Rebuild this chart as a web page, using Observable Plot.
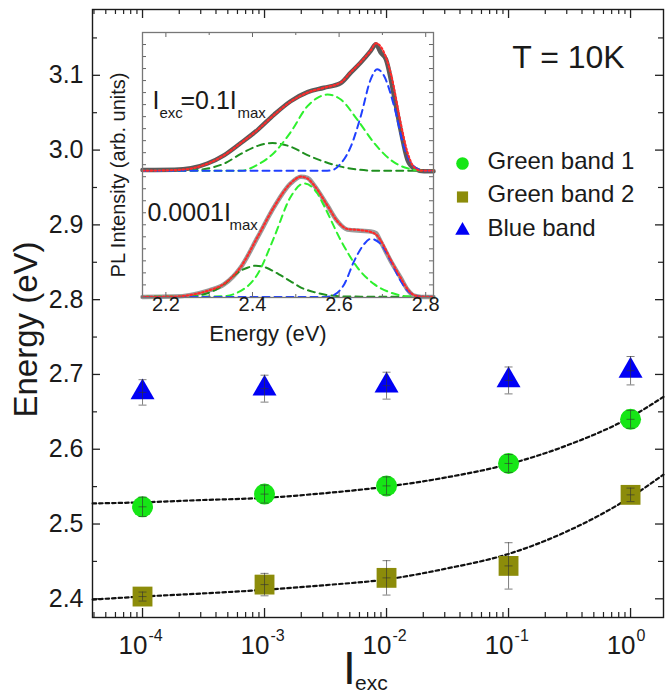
<!DOCTYPE html>
<html><head><meta charset="utf-8">
<script src="https://cdn.jsdelivr.net/npm/d3@7"></script>
<script src="https://cdn.jsdelivr.net/npm/@observablehq/plot@0.6"></script>
<style>
body{margin:0;background:#fff;}
#wrap{position:relative;width:666px;height:693px;}
#wrap svg{position:absolute;left:0;top:0;}
</style></head><body><div id="wrap"></div>
<script>
// ---------- main chart data ----------
const intensity = [1e-4, 1e-3, 1e-2, 1e-1, 1];
const greenBand1 = [2.523, 2.540, 2.551, 2.581, 2.640];
const greenBand1Err = [0.013, 0.012, 0.012, 0.012, 0.012];
const greenBand2 = [2.403, 2.419, 2.428, 2.444, 2.539];
const greenBand2Err = [0.006, 0.015, 0.023, 0.031, 0.009];
const blueBand = [2.676, 2.681, 2.685, 2.692, 2.705];
const blueBandErr = [0.017, 0.018, 0.018, 0.018, 0.019];
// dotted fit curves
const fitX = [3.9e-5, 1e-4, 3e-4, 1e-3, 3e-3, 1e-2, 3e-2, 0.1, 0.3, 1, 1.86];
const fit1Y = [2.5275, 2.529, 2.532, 2.535, 2.541, 2.550, 2.562, 2.580, 2.605, 2.643, 2.670];
const fit2Y = [2.399, 2.403, 2.407, 2.412, 2.418, 2.426, 2.440, 2.460, 2.490, 2.536, 2.566];
const yTickValues = [2.4, 2.5, 2.6, 2.7, 2.8, 2.9, 3.0, 3.1];
const xTickValues = [1e-4, 1e-3, 1e-2, 1e-1, 1];
const xTickExponents = ["-4", "-3", "-2", "-1", "0"];
const legendLabels = ["Green band 1", "Green band 2", "Blue band"];
const tempLabel = "T = 10K";

// ---------- inset data (energy eV, intensity arb. units) ----------
const lowData = [[2.146,0],[2.22,0.003],[2.258,0.017],[2.296,0.05],[2.335,0.106],[2.373,0.246],[2.412,0.497],[2.45,0.749],[2.488,0.944],[2.512,1.0],[2.527,0.99],[2.542,0.93],[2.573,0.76],[2.596,0.63],[2.619,0.56],[2.65,0.55],[2.673,0.545],[2.685,0.53],[2.696,0.46],[2.719,0.30],[2.742,0.16],[2.758,0.06],[2.773,0.01],[2.79,0],[2.818,0]];
const lowFit = [[2.146,0],[2.22,0.003],[2.258,0.017],[2.296,0.05],[2.335,0.11],[2.373,0.25],[2.412,0.50],[2.45,0.75],[2.488,0.945],[2.512,1.0],[2.527,0.985],[2.542,0.93],[2.573,0.76],[2.596,0.63],[2.619,0.565],[2.65,0.555],[2.673,0.54],[2.685,0.52],[2.696,0.47],[2.719,0.31],[2.742,0.16],[2.758,0.065],[2.773,0.015],[2.79,0.002],[2.818,0]];
const lowBand2 = [[2.146,0],[2.25,0.003],[2.296,0.03],[2.335,0.106],[2.365,0.2],[2.39,0.245],[2.408,0.26],[2.43,0.245],[2.46,0.19],[2.488,0.13],[2.512,0.078],[2.542,0.04],[2.573,0.015],[2.62,0.003],[2.818,0]];
const lowBand1 = [[2.146,0],[2.33,0.005],[2.373,0.05],[2.412,0.19],[2.45,0.497],[2.488,0.832],[2.519,0.944],[2.55,0.86],[2.565,0.76],[2.604,0.47],[2.642,0.246],[2.681,0.106],[2.719,0.036],[2.758,0.005],[2.818,0]];
const lowBlue = [[2.146,0],[2.57,0],[2.588,0.015],[2.612,0.106],[2.635,0.30],[2.658,0.44],[2.673,0.483],[2.696,0.44],[2.719,0.30],[2.742,0.134],[2.765,0.03],[2.788,0.002],[2.818,0]];
const highData = [[2.146,1.056],[2.22,1.058],[2.258,1.07],[2.296,1.11],[2.335,1.18],[2.373,1.28],[2.412,1.39],[2.45,1.517],[2.488,1.628],[2.527,1.704],[2.565,1.74],[2.604,1.78],[2.627,1.866],[2.65,1.95],[2.673,2.047],[2.685,2.103],[2.696,2.033],[2.708,1.978],[2.727,1.67],[2.742,1.39],[2.758,1.14],[2.773,1.07],[2.796,1.045],[2.818,1.045]];
const highFit = [[2.146,1.05],[2.22,1.055],[2.258,1.068],[2.296,1.108],[2.335,1.18],[2.373,1.28],[2.412,1.39],[2.45,1.515],[2.488,1.625],[2.527,1.70],[2.565,1.74],[2.604,1.785],[2.627,1.87],[2.65,1.955],[2.673,2.05],[2.685,2.11],[2.70,2.06],[2.72,1.85],[2.742,1.45],[2.758,1.2],[2.773,1.08],[2.79,1.05],[2.818,1.05]];
const highBand2 = [[2.146,1.05],[2.25,1.052],[2.296,1.068],[2.335,1.11],[2.373,1.19],[2.412,1.257],[2.446,1.28],[2.488,1.25],[2.527,1.18],[2.565,1.126],[2.604,1.084],[2.642,1.06],[2.681,1.05],[2.818,1.05]];
const highBand1 = [[2.146,1.05],[2.373,1.05],[2.412,1.1],[2.45,1.2],[2.488,1.37],[2.527,1.587],[2.55,1.656],[2.573,1.684],[2.604,1.642],[2.642,1.475],[2.681,1.28],[2.719,1.14],[2.758,1.07],[2.796,1.05],[2.818,1.05]];
const highBlue = [[2.146,1.05],[2.573,1.05],[2.588,1.06],[2.604,1.11],[2.627,1.25],[2.65,1.503],[2.673,1.81],[2.688,1.894],[2.704,1.838],[2.727,1.587],[2.75,1.25],[2.773,1.084],[2.796,1.05],[2.818,1.05]];
const insetXTicks = [2.2, 2.4, 2.6, 2.8];

// ---------- styles ----------
const FONT = '"Liberation Sans", Arial, Helvetica, sans-serif';
const GREEN = "#16e616", OLIVE = "#8c8c0a", BLUE = "#0000f5";
const INK = "#1a1a1a";
const W = 666, H = 693;
const M = {left: 92, right: 3, top: 9, bottom: 76};
const PW = W - M.left - M.right, PH = H - M.top - M.bottom;

const series = [
  {name: legendLabels[0], values: greenBand1, errs: greenBand1Err, symbol: "circle", fill: GREEN, r: 10.5, lr: 6.3},
  {name: legendLabels[1], values: greenBand2, errs: greenBand2Err, symbol: "square", fill: OLIVE, r: 11.2, lr: 6.3},
  {name: legendLabels[2], values: blueBand, errs: blueBandErr, symbol: "triangle", fill: BLUE, r: 8.9, lr: 5.4}
];
const pointsOf = s => intensity.map((x, i) => ({x, y: s.values[i], e: s.errs[i]}));
const allPoints = series.flatMap(pointsOf);
const fit1 = fitX.map((x, i) => ({x, y: fit1Y[i]}));
const fit2 = fitX.map((x, i) => ({x, y: fit2Y[i]}));

const capSymbol = {draw(ctx, size) { const w = Math.sqrt(size / Math.PI); ctx.moveTo(-w, 0); ctx.lineTo(w, 0); }};

const xDomain = [Math.pow(10, -4.41), Math.pow(10, 0.27)];
const xMinor = [];
for (let d = -5; d <= 0; d++) for (let k = 2; k <= 9; k++) {
  const v = k * Math.pow(10, d);
  if (v > xDomain[0] && v < xDomain[1]) xMinor.push(v);
}
const yMinor = d3.range(2.45, 3.16, 0.1);

const tickStroke = "#222";
const errStyle = {stroke: "#333", strokeWidth: 0.9, strokeOpacity: 0.7};
const mainPlot = Plot.plot({
  width: W, height: H,
  marginLeft: M.left, marginRight: M.right, marginTop: M.top, marginBottom: M.bottom,
  style: {fontFamily: FONT, background: "white", color: INK},
  x: {type: "log", domain: xDomain, axis: null},
  y: {domain: [2.375, 3.188], axis: null},
  marks: [
    // inward ticks on all four sides
    Plot.tickY(yTickValues, {y: d => d, insetRight: PW - 8, stroke: tickStroke, strokeWidth: 1.3}),
    Plot.tickY(yTickValues, {y: d => d, insetLeft: PW - 8, stroke: tickStroke, strokeWidth: 1.3}),
    Plot.tickY(yMinor, {y: d => d, insetRight: PW - 5, stroke: tickStroke, strokeWidth: 1.2}),
    Plot.tickY(yMinor, {y: d => d, insetLeft: PW - 5, stroke: tickStroke, strokeWidth: 1.2}),
    Plot.tickX(xTickValues, {x: d => d, insetTop: PH - 9, stroke: tickStroke, strokeWidth: 1.3}),
    Plot.tickX(xTickValues, {x: d => d, insetBottom: PH - 9, stroke: tickStroke, strokeWidth: 1.3}),
    Plot.tickX(xMinor, {x: d => d, insetTop: PH - 5, stroke: tickStroke, strokeWidth: 1.2}),
    Plot.tickX(xMinor, {x: d => d, insetBottom: PH - 5, stroke: tickStroke, strokeWidth: 1.2}),
    Plot.frame({stroke: INK, strokeWidth: 1.4}),
    // fits
    Plot.line(fit1, {x: "x", y: "y", curve: "monotone-x", stroke: "#111", strokeWidth: 2.2, strokeDasharray: "3.5,3"}),
    Plot.line(fit2, {x: "x", y: "y", curve: "monotone-x", stroke: "#111", strokeWidth: 2.2, strokeDasharray: "3.5,3"}),
    // markers
    ...series.map(s => Plot.dot(pointsOf(s), {x: "x", y: "y", r: s.r, symbol: s.symbol, fill: s.fill, stroke: "none"})),
    // error bars
    Plot.ruleX(allPoints, {x: "x", y1: d => d.y - d.e, y2: d => d.y + d.e, ...errStyle}),
    Plot.dot(allPoints, {x: "x", y: d => d.y + d.e, symbol: capSymbol, r: 4, fill: "none", ...errStyle}),
    Plot.dot(allPoints, {x: "x", y: d => d.y - d.e, symbol: capSymbol, r: 4, fill: "none", ...errStyle}),
    Plot.dot(allPoints, {x: "x", y: "y", symbol: capSymbol, r: 4, fill: "none", ...errStyle}),
    // tick labels
    Plot.text(yTickValues, {y: d => d, frameAnchor: "left", dx: -9, textAnchor: "end", text: d => d.toFixed(1), fontSize: 25, fill: INK}),
    Plot.text(xTickValues, {x: d => d, frameAnchor: "bottom", dy: 36, textAnchor: "end", lineAnchor: "bottom", dx: 5, text: () => "10", fontSize: 26, fill: INK}),
    Plot.text(xTickValues, {x: d => d, frameAnchor: "bottom", dy: 23, textAnchor: "start", lineAnchor: "bottom", dx: 6, text: (d, i) => xTickExponents[i], fontSize: 16, fill: INK}),
    // axis titles
    Plot.text(["Energy (eV)"], {frameAnchor: "left", dx: -66, dy: 16, rotate: -90, textAnchor: "middle", text: d => d, fontSize: 33, fill: INK}),
    Plot.text(["I"], {frameAnchor: "bottom", dx: -35, dy: 66, textAnchor: "start", lineAnchor: "bottom", text: d => d, fontSize: 46, fill: INK}),
    Plot.text(["exc"], {frameAnchor: "bottom", dx: -23, dy: 72, textAnchor: "start", lineAnchor: "bottom", text: d => d, fontSize: 21, fill: INK}),
    // temperature annotation
    Plot.text([tempLabel], {frameAnchor: "top-right", dx: -95, dy: 58, textAnchor: "middle", lineAnchor: "bottom", text: d => d, fontSize: 32, fill: INK}),
    // legend
    ...series.flatMap((s, i) => [
      Plot.dot([s.name], {frameAnchor: "top-left", dx: 370, dy: 154 + i * 33.5, r: s.lr, symbol: s.symbol, fill: s.fill, stroke: "none"}),
      Plot.text([s.name], {frameAnchor: "top-left", dx: 395, dy: 159 + i * 33.5, textAnchor: "start", lineAnchor: "bottom", text: d => d, fontSize: 24, fill: INK})
    ])
  ]
});

// ---------- inset ----------
const IL = 142, IR = 433, IT = 32, IB = 297;
const IPW = IR - IL, IPH = IB - IT;
const pairs = arr => arr.map(([e, v]) => ({e, v}));
const inXMinor = [2.3, 2.5, 2.7];
const inYMinor = d3.range(0.1, 2.15, 0.1);
const compStyle = {strokeWidth: 2, strokeDasharray: "7,5", curve: "monotone-x"};
const fitStyle = {curve: "monotone-x", stroke: "#ff2a2a", strokeWidth: 2.2, strokeDasharray: "1.6,2.4"};
const insetPlot = Plot.plot({
  width: W, height: H,
  marginLeft: IL, marginRight: W - IR, marginTop: IT, marginBottom: H - IB,
  style: {fontFamily: FONT, background: "transparent", color: INK},
  x: {domain: [2.146, 2.818], axis: null},
  y: {domain: [-0.005, 2.2], axis: null},
  marks: [
    Plot.frame({fill: "white", stroke: "none"}),
    // measured spectra
    Plot.line(pairs(lowData), {x: "e", y: "v", curve: "monotone-x", stroke: "#9a9a9a", strokeWidth: 4.5}),
    Plot.line(pairs(highData), {x: "e", y: "v", curve: "monotone-x", stroke: "#5a5a5a", strokeWidth: 4.5}),
    // components
    Plot.line(pairs(lowBand2), {x: "e", y: "v", stroke: "#1f8f1f", ...compStyle}),
    Plot.line(pairs(lowBand1), {x: "e", y: "v", stroke: "#2ef02e", ...compStyle}),
    Plot.line(pairs(lowBlue), {x: "e", y: "v", stroke: "#2040ff", ...compStyle}),
    Plot.line(pairs(highBand2), {x: "e", y: "v", stroke: "#1f8f1f", ...compStyle}),
    Plot.line(pairs(highBand1), {x: "e", y: "v", stroke: "#2ef02e", ...compStyle}),
    Plot.line(pairs(highBlue), {x: "e", y: "v", stroke: "#2040ff", ...compStyle}),
    // fits
    Plot.line(pairs(lowFit), {x: "e", y: "v", ...fitStyle}),
    Plot.line(pairs(highFit), {x: "e", y: "v", ...fitStyle}),
    // ticks
    Plot.tickX(insetXTicks, {x: d => d, insetTop: IPH - 5, stroke: "#666"}),
    Plot.tickX(insetXTicks, {x: d => d, insetBottom: IPH - 5, stroke: "#666"}),
    Plot.tickX(inXMinor, {x: d => d, insetTop: IPH - 3, stroke: "#666"}),
    Plot.tickX(inXMinor, {x: d => d, insetBottom: IPH - 3, stroke: "#666"}),
    Plot.tickY(inYMinor, {y: d => d, insetRight: IPW - 4, stroke: "#666"}),
    Plot.tickY(inYMinor, {y: d => d, insetLeft: IPW - 4, stroke: "#666"}),
    Plot.frame({stroke: "#777", strokeWidth: 1.3}),
    // labels
    Plot.text(insetXTicks, {x: d => d, frameAnchor: "bottom", dy: 13, text: d => d.toFixed(1), fontSize: 20, fill: INK}),
    Plot.text(["Energy (eV)"], {frameAnchor: "bottom", dx: -20, dy: 43, textAnchor: "middle", text: d => d, fontSize: 22, fill: INK}),
    Plot.text(["PL Intensity (arb. units)"], {frameAnchor: "left", dx: -24, dy: 10, rotate: -90, textAnchor: "middle", text: d => d, fontSize: 20, fill: INK}),
    Plot.text(["I"], {frameAnchor: "top-left", dx: 10, dy: 76, textAnchor: "start", lineAnchor: "bottom", text: d => d, fontSize: 25, fill: INK}),
    Plot.text(["exc"], {frameAnchor: "top-left", dx: 17, dy: 85, textAnchor: "start", lineAnchor: "bottom", text: d => d, fontSize: 15, fill: INK}),
    Plot.text(["=0.1I"], {frameAnchor: "top-left", dx: 38, dy: 76, textAnchor: "start", lineAnchor: "bottom", text: d => d, fontSize: 25, fill: INK}),
    Plot.text(["max"], {frameAnchor: "top-left", dx: 95, dy: 85, textAnchor: "start", lineAnchor: "bottom", text: d => d, fontSize: 15, fill: INK}),
    Plot.text(["0.0001I"], {frameAnchor: "top-left", dx: 5, dy: 188, textAnchor: "start", lineAnchor: "bottom", text: d => d, fontSize: 25, fill: INK}),
    Plot.text(["max"], {frameAnchor: "top-left", dx: 87, dy: 197, textAnchor: "start", lineAnchor: "bottom", text: d => d, fontSize: 15, fill: INK})
  ]
});

const wrap = document.getElementById("wrap");
wrap.appendChild(mainPlot);
wrap.appendChild(insetPlot);
</script>
</body></html>
